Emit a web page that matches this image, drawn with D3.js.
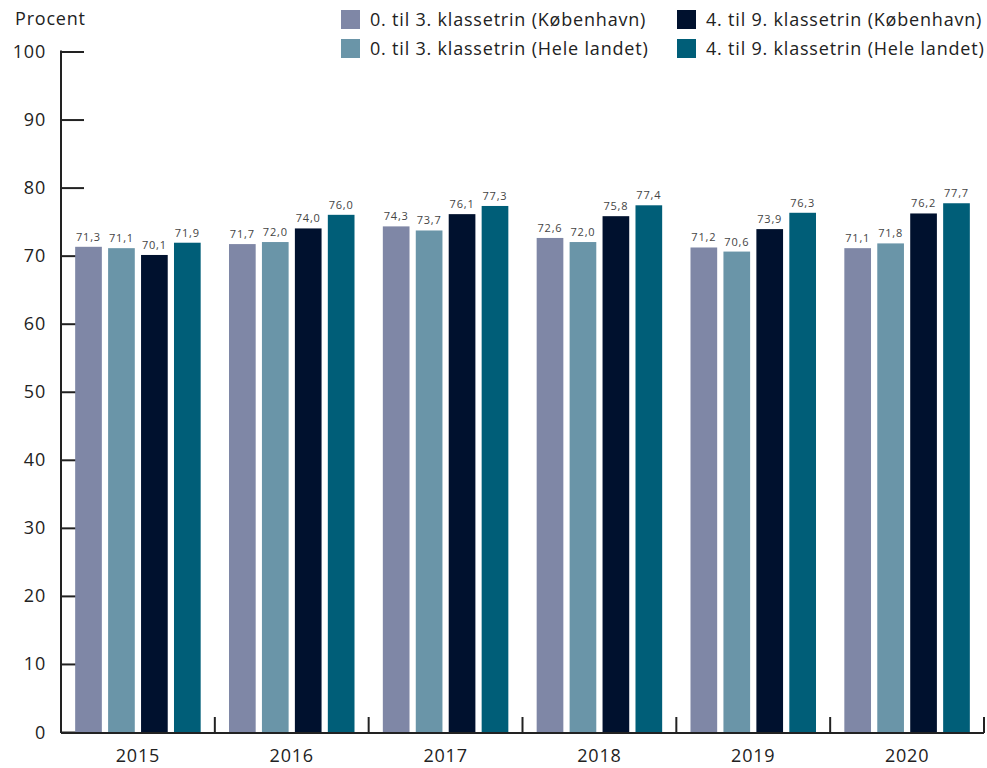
<!DOCTYPE html>
<html><head><meta charset="utf-8">
<script src="https://cdn.jsdelivr.net/npm/d3@7"></script>
<style>
body{margin:0;background:#fff;}
text{font-family:"Open Sans",sans-serif;letter-spacing:0.8px;}
</style></head>
<body><svg id="c" width="987" height="768"></svg>
<script>
const years = ["2015","2016","2017","2018","2019","2020"];
const seriesNames = ["0. til 3. klassetrin (København)","0. til 3. klassetrin (Hele landet)","4. til 9. klassetrin (København)","4. til 9. klassetrin (Hele landet)"];
const kbh03 = [71.3,71.7,74.3,72.6,71.2,71.1];
const land03 = [71.1,72.0,73.7,72.0,70.6,71.8];
const kbh49 = [70.1,74.0,76.1,75.8,73.9,76.2];
const land49 = [71.9,76.0,77.3,77.4,76.3,77.7];
const yTicks = [0,10,20,30,40,50,60,70,80,90,100];
const colors = ["#7f87a6","#6a95a8","#00112e","#005e78"];

const series = [kbh03, land03, kbh49, land49];
const svg = d3.select("#c");
const x0 = 61, x1 = 984, yTop = 51.5, yBot = 732;
const x = d3.scaleBand().domain(years).range([x0, x1]).paddingInner(0).paddingOuter(0);
const xs = d3.scaleBand().domain(d3.range(4)).range([0, x.bandwidth()]).paddingInner(0.19).paddingOuter(0.43);
const y = d3.scaleLinear().domain([0,100]).range([yBot, yTop]);

// y axis
const ya = svg.append("g").attr("transform", `translate(${x0},0)`)
  .call(d3.axisRight(y).tickValues(yTicks).tickSize(23).tickFormat(""));
ya.select(".domain").remove();
ya.selectAll("line").attr("stroke","#222").attr("stroke-width",2);
svg.append("line").attr("x1",x0).attr("x2",x0).attr("y1",yTop-1).attr("y2",yBot+1).attr("stroke","#222").attr("stroke-width",2);
svg.selectAll(".ylab").data(yTicks).enter().append("text")
  .attr("x",46).attr("y",d=>y(d)+6.5).attr("text-anchor","end")
  .attr("font-size",18).attr("fill","#222").text(d=>d);
svg.append("text").attr("x",15).attr("y",25).attr("font-size",18).attr("fill","#222").text("Procent");

// bars
years.forEach((yr,i)=>{
  const g = svg.append("g").attr("transform",`translate(${x(yr)},0)`);
  series.forEach((s,j)=>{
    g.append("rect").attr("x",xs(j)).attr("width",xs.bandwidth())
      .attr("y",y(s[i])).attr("height",yBot-y(s[i])).attr("fill",colors[j]);
    g.append("text").attr("x",xs(j)+xs.bandwidth()/2).attr("y",y(s[i])-6)
      .attr("text-anchor","middle").attr("font-size",11).attr("fill","#444")
      .text(d3.format(".1f")(s[i]).replace(".",","));
  });
});

// x axis
svg.append("line").attr("x1",x0).attr("x2",x1).attr("y1",yBot+1).attr("y2",yBot+1).attr("stroke","#222").attr("stroke-width",2);
years.forEach(yr=>{
  const xe = x(yr)+x.bandwidth();
  svg.append("line").attr("x1",xe).attr("x2",xe).attr("y1",yBot-15).attr("y2",yBot+1).attr("stroke","#222").attr("stroke-width",2);
});
svg.selectAll(".xlab").data(years).enter().append("text")
  .attr("x",d=>x(d)+x.bandwidth()/2).attr("y",762).attr("text-anchor","middle")
  .attr("font-size",18).attr("fill","#222").text(d=>d);

// legend
const legPos = [[341,10],[341,39],[677,10],[677,39]];
seriesNames.forEach((n,j)=>{
  const [lx,ly] = legPos[j];
  svg.append("rect").attr("x",lx).attr("y",ly).attr("width",19).attr("height",19).attr("fill",colors[j]);
  svg.append("text").attr("x",lx+29).attr("y",ly+16).attr("font-size",18).attr("fill","#222").text(n);
});
</script></body></html>
